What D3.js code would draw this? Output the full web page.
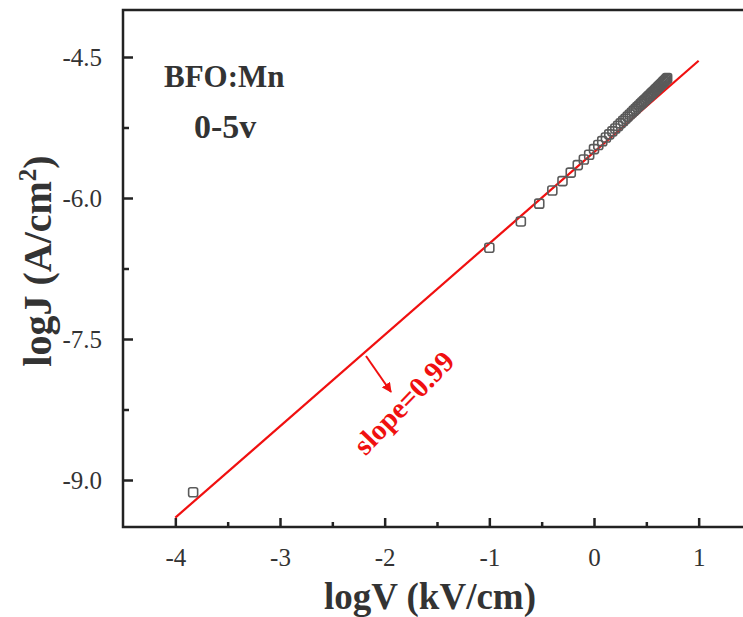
<!DOCTYPE html>
<html>
<head>
<meta charset="utf-8">
<script src="https://cdn.jsdelivr.net/npm/d3@7"></script>
<style>
  body { margin: 0; background: #fff; }
  svg { display: block; }
</style>
</head>
<body>
<div id="chart"></div>
<script>
// log V values (kV/cm), one per measured point
const logV = [-3.83, -1.0, -0.699, -0.523, -0.398, -0.301, -0.222, -0.155, -0.097, -0.046,
  0.0, 0.041, 0.079, 0.114, 0.146, 0.176, 0.204, 0.230, 0.255, 0.279,
  0.301, 0.322, 0.342, 0.362, 0.380, 0.398, 0.415, 0.431, 0.447, 0.462,
  0.477, 0.491, 0.505, 0.519, 0.531, 0.544, 0.556, 0.568, 0.580, 0.591,
  0.602, 0.613, 0.623, 0.633, 0.643, 0.653, 0.663, 0.672, 0.681, 0.690, 0.699];
// log J values (A/cm^2)
const logJ = [-9.13, -6.53, -6.25, -6.06, -5.92, -5.82, -5.73, -5.65, -5.59, -5.54,
  -5.48, -5.436, -5.395, -5.357, -5.323, -5.291, -5.261, -5.233, -5.206, -5.180,
  -5.157, -5.134, -5.112, -5.091, -5.071, -5.052, -5.033, -5.016, -4.999, -4.983,
  -4.967, -4.952, -4.937, -4.922, -4.909, -4.895, -4.882, -4.869, -4.856, -4.844,
  -4.832, -4.820, -4.809, -4.798, -4.787, -4.776, -4.765, -4.755, -4.745, -4.735, -4.725];
// fitted line end points
const fitX = [-4, 1];
const fitY = [-9.40, -4.54];

const xTicks = [-4, -3, -2, -1, 0, 1];
const xMinor = [-3.5, -2.5, -1.5, -0.5, 0.5];
const yTicks = [-9.0, -7.5, -6.0, -4.5];
const yMinor = [-8.25, -6.75, -5.25];

const W = 743, H = 617;
const margin = {top: 10, left: 123, bottom: 90};
const plotRight = 751;

const svg = d3.select("#chart").append("svg")
  .attr("width", W).attr("height", H);

const x = d3.scaleLinear().domain([-4.5, 1.5]).range([margin.left, plotRight]);
const y = d3.scaleLinear().domain([-9.5, -4]).range([H - margin.bottom, margin.top]);

const axisColor = "#222";
const textColor = "#333";
const red = "#f01010";
const serif = "'Liberation Serif', 'Times New Roman', serif";

// x axis
const xAxis = svg.append("g").attr("transform", `translate(0,${y(-9.5)})`)
  .call(d3.axisBottom(x).tickValues(xTicks).tickSize(-9).tickPadding(21)
    .tickFormat(d => d3.format("d")(d).replace("−", "-")))
  .attr("font-family", serif);
xAxis.select(".domain").remove();
xAxis.selectAll(".tick line").attr("stroke", axisColor).attr("stroke-width", 2.5);
xAxis.selectAll("text").attr("font-family", serif).attr("font-size", 25)
  .attr("fill", textColor).attr("dy", "0.71em");
svg.append("g").attr("transform", `translate(0,${y(-9.5)})`)
  .call(d3.axisBottom(x).tickValues(xMinor).tickSize(-5).tickFormat(""))
  .call(g => g.select(".domain").remove())
  .selectAll(".tick line").attr("stroke", axisColor).attr("stroke-width", 2.5);

// y axis
const yAxis = svg.append("g").attr("transform", `translate(${x(-4.5)},0)`)
  .call(d3.axisLeft(y).tickValues(yTicks).tickSize(-10).tickPadding(21)
    .tickFormat(d => d3.format(".1f")(d).replace("−", "-")))
  .attr("font-family", serif);
yAxis.select(".domain").remove();
yAxis.selectAll(".tick line").attr("stroke", axisColor).attr("stroke-width", 2.5);
yAxis.selectAll("text").attr("font-family", serif).attr("font-size", 25)
  .attr("fill", textColor);
svg.append("g").attr("transform", `translate(${x(-4.5)},0)`)
  .call(d3.axisLeft(y).tickValues(yMinor).tickSize(-6).tickFormat(""))
  .call(g => g.select(".domain").remove())
  .selectAll(".tick line").attr("stroke", axisColor).attr("stroke-width", 2.5);

// frame
svg.append("rect")
  .attr("x", x(-4.5)).attr("y", y(-4))
  .attr("width", x(1.5) - x(-4.5)).attr("height", y(-9.5) - y(-4))
  .attr("fill", "none").attr("stroke", axisColor).attr("stroke-width", 2.5);

// fitted line
svg.append("line")
  .attr("x1", x(fitX[0])).attr("y1", y(fitY[0]))
  .attr("x2", x(fitX[1])).attr("y2", y(fitY[1]))
  .attr("stroke", red).attr("stroke-width", 2.2);

// data markers
const pts = logV.map((v, i) => ({v, j: logJ[i]}));
svg.append("g").selectAll("rect").data(pts).enter().append("rect")
  .attr("x", d => x(d.v) - 4.5).attr("y", d => y(d.j) - 4.5)
  .attr("width", 9).attr("height", 9).attr("rx", 2)
  .attr("fill", "none").attr("stroke", "#5a5a5a").attr("stroke-width", 1.6);

// labels in the plot
svg.append("text").attr("x", 164).attr("y", 87)
  .attr("font-family", serif).attr("font-weight", "bold").attr("font-size", 31)
  .attr("fill", textColor).text("BFO:Mn");
svg.append("text").attr("x", 194).attr("y", 138)
  .attr("font-family", serif).attr("font-weight", "bold").attr("font-size", 34)
  .attr("fill", textColor).text("0-5v");

// slope annotation
const defs = svg.append("defs");
defs.append("marker").attr("id", "arr").attr("viewBox", "0 0 10 10")
  .attr("refX", 9).attr("refY", 5).attr("markerWidth", 5).attr("markerHeight", 5)
  .attr("orient", "auto")
  .append("path").attr("d", "M0,0 L10,5 L0,10 z").attr("fill", red);
svg.append("line").attr("x1", 366).attr("y1", 356).attr("x2", 391).attr("y2", 392)
  .attr("stroke", red).attr("stroke-width", 2).attr("marker-end", "url(#arr)");
svg.append("text").attr("transform", "translate(406,405) rotate(-46)")
  .attr("text-anchor", "middle").attr("dominant-baseline", "middle")
  .attr("font-family", serif).attr("font-weight", "bold").attr("font-size", 29)
  .attr("fill", red).text("slope=0.99");

// axis titles
svg.append("text").attr("x", 430).attr("y", 609).attr("text-anchor", "middle")
  .attr("font-family", serif).attr("font-weight", "bold").attr("font-size", 37)
  .attr("fill", textColor).text("logV (kV/cm)");
const yt = svg.append("text").attr("transform", "translate(51,261) rotate(-90)")
  .attr("text-anchor", "middle")
  .attr("font-family", serif).attr("font-weight", "bold").attr("font-size", 40)
  .attr("fill", textColor);
yt.append("tspan").text("logJ (A/cm");
yt.append("tspan").attr("font-size", 25).attr("dy", -15).text("2");
yt.append("tspan").attr("dy", 15).text(")");
</script>
</body>
</html>
